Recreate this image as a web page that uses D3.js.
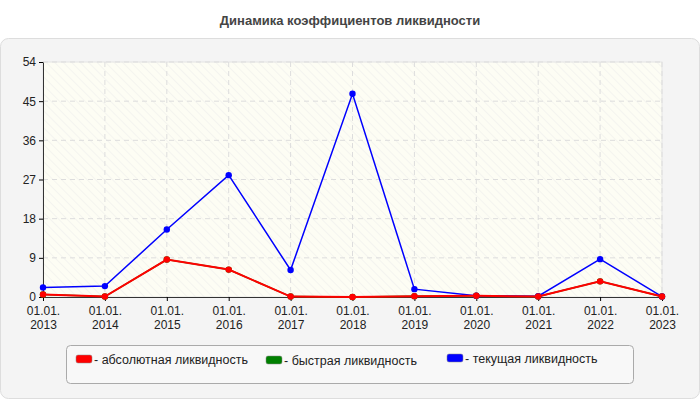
<!DOCTYPE html>
<html><head><meta charset="utf-8">
<script src="https://cdn.jsdelivr.net/npm/d3@7"></script>
<style>body{margin:0;background:#fff;font-family:Arial,"Liberation Sans",sans-serif}</style>
</head><body>
<script>
var dates = ["01.01.2013","01.01.2014","01.01.2015","01.01.2016","01.01.2017","01.01.2018","01.01.2019","01.01.2020","01.01.2021","01.01.2022","01.01.2023"];
var absolute = [0.6, 0.1, 8.6, 6.3, 0.1, 0.0, 0.2, 0.3, 0.1, 3.6, 0.1];
var quick = [0.6, 0.1, 8.6, 6.3, 0.1, 0.0, 0.2, 0.3, 0.1, 3.6, 0.1];
var current = [2.2, 2.5, 15.5, 28.0, 6.2, 46.7, 1.8, 0.3, 0.2, 8.7, 0.1];
var yTicks = [0, 9, 18, 27, 36, 45, 54];

var svg = d3.select("body").append("svg").attr("width", 700).attr("height", 400);

svg.append("text").attr("x", 350).attr("y", 25).attr("text-anchor", "middle")
    .attr("font-size", 13).attr("font-weight", "bold").attr("fill", "#444")
    .text("Динамика коэффициентов ликвидности");

svg.append("rect").attr("x", 0.5).attr("y", 38.5).attr("width", 699).attr("height", 360)
    .attr("rx", 8).attr("fill", "#f4f4f4").attr("stroke", "#ddd");

var plotLeft = 43, plotRight = 662, plotTop = 62, plotBottom = 297;
var x = d3.scalePoint().domain(dates).range([plotLeft, plotRight]);
var y = d3.scaleLinear().domain([0, 54]).range([plotBottom, plotTop]);

var defs = svg.append("defs");
var pat = defs.append("pattern").attr("id", "hatch").attr("width", 6).attr("height", 6)
    .attr("patternUnits", "userSpaceOnUse").attr("patternTransform", "rotate(-45)");
pat.append("rect").attr("width", 6).attr("height", 6).attr("fill", "#fdfdf4");
pat.append("line").attr("x1", 0).attr("y1", 0).attr("x2", 0).attr("y2", 6).attr("stroke", "#f2f2ee").attr("stroke-width", 1.5);

svg.append("rect").attr("x", plotLeft).attr("y", plotTop).attr("width", plotRight - plotLeft).attr("height", plotBottom - plotTop)
    .attr("fill", "url(#hatch)").attr("stroke", "#e4e4e4");

svg.append("g").selectAll("line").data(yTicks.slice(1)).join("line")
    .attr("x1", plotLeft).attr("x2", plotRight).attr("y1", d => y(d)).attr("y2", d => y(d))
    .attr("stroke", "#ddd").attr("stroke-dasharray", "5,4");
svg.append("g").selectAll("line").data(dates.slice(1)).join("line")
    .attr("x1", d => x(d)).attr("x2", d => x(d)).attr("y1", plotTop).attr("y2", plotBottom)
    .attr("stroke", "#ddd").attr("stroke-dasharray", "5,4");

var yAxis = svg.append("g").attr("transform", "translate(" + plotLeft + ",0)")
    .call(d3.axisLeft(y).tickValues(yTicks).tickSize(4).tickSizeOuter(0));
yAxis.selectAll("text").attr("font-size", 12).attr("fill", "#222").attr("font-family", "Arial");
yAxis.select(".domain").attr("stroke", "#333");

var xAxis = svg.append("g").attr("transform", "translate(0," + plotBottom + ")")
    .call(d3.axisBottom(x).tickSize(4).tickSizeOuter(0).tickFormat(""));
xAxis.select(".domain").attr("stroke", "#333");
xAxis.selectAll(".tick").each(function (d) {
    var t = d3.select(this).append("text").attr("fill", "#222").attr("font-size", 12)
        .attr("text-anchor", "middle").attr("font-family", "Arial");
    t.append("tspan").attr("x", 0).attr("y", 18).text(d.slice(0, 6));
    t.append("tspan").attr("x", 0).attr("y", 32).text(d.slice(6));
});

var line = d3.line().x((d, i) => x(dates[i])).y(d => y(d));
[[quick, "#008000"], [current, "#0000ff"], [absolute, "#ff0000"]].forEach(function (s) {
    var g = svg.append("g");
    g.append("path").datum(s[0]).attr("d", line).attr("fill", "none")
        .attr("stroke", s[1]).attr("stroke-width", s[1] === "#ff0000" ? 2 : 1.5);
    g.selectAll("circle").data(s[0]).join("circle")
        .attr("cx", (d, i) => x(dates[i])).attr("cy", d => y(d)).attr("r", 3.2).attr("fill", s[1]);
});

var legend = [["- абсолютная ликвидность", "#ff0000", 76, 360], ["- быстрая ликвидность", "#008000", 266, 361], ["- текущая ликвидность", "#0000ff", 447, 359]];
svg.append("rect").attr("x", 66.5).attr("y", 345.5).attr("width", 567).attr("height", 38).attr("rx", 4)
    .attr("fill", "#f8f8f8").attr("stroke", "#aaa");
legend.forEach(function (l) {
    svg.append("rect").attr("x", l[2]).attr("y", l[3] - 5).attr("width", 16).attr("height", 8).attr("rx", 2)
        .attr("fill", l[1]).attr("stroke", "#888").attr("stroke-width", 0.5);
    svg.append("text").attr("x", l[2] + 18).attr("y", l[3] + 4).attr("font-size", 12.5).attr("fill", "#222")
        .text(l[0]);
});
</script>
</body></html>
